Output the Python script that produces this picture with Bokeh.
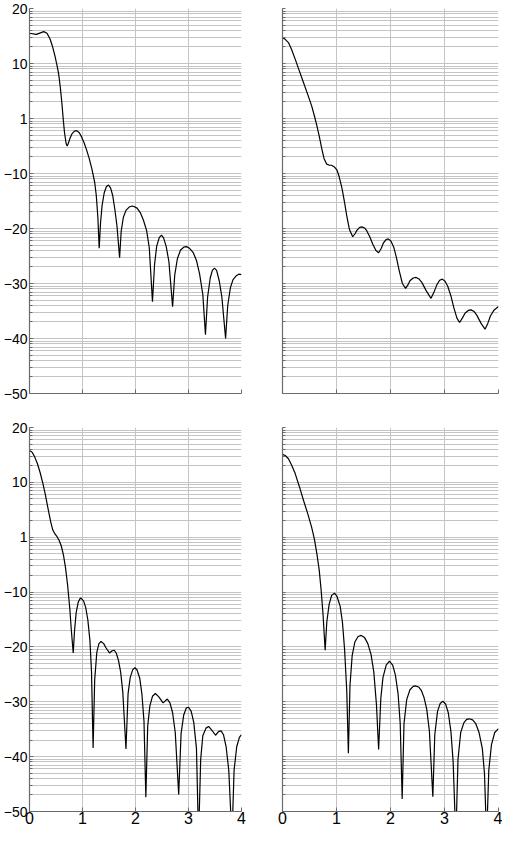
import math
from bokeh.plotting import figure
from bokeh.layouts import column, row
from bokeh.models import FixedTicker
from bokeh.embed import file_html
from bokeh.resources import INLINE

# ---- data ----
x_tl = [0.0, 0.13, 0.27, 0.33, 0.39, 0.44, 0.48, 0.52, 0.55, 0.58, 0.61, 0.64, 0.66, 0.69, 0.71, 0.73,
        0.76, 0.80, 0.85, 0.89, 0.94, 0.98, 1.03, 1.08, 1.13, 1.18, 1.23, 1.26, 1.29, 1.315, 1.34, 1.37,
        1.41, 1.45, 1.49, 1.53, 1.57, 1.61, 1.65, 1.70, 1.73, 1.77, 1.82, 1.88, 1.94, 1.97, 2.03, 2.09,
        2.15, 2.21, 2.26, 2.32, 2.36, 2.40, 2.45, 2.49, 2.53, 2.58, 2.63, 2.70, 2.74, 2.79, 2.85, 2.91,
        2.96, 3.02, 3.09, 3.15, 3.21, 3.27, 3.32, 3.36, 3.41, 3.45, 3.49, 3.53, 3.58, 3.63, 3.70, 3.74,
        3.79, 3.84, 3.90, 3.95, 4.0]
y_tl = [15.5, 15.3, 15.8, 15.5, 14.4, 12.9, 11.4, 9.6, 8.1, 5.8, 2.9, -0.5, -2.5, -4.5, -5.0, -4.6,
        -3.7, -2.8, -2.3, -2.2, -2.6, -3.3, -4.4, -5.8, -7.4, -9.3, -11.6, -14.0, -18.0, -23.6, -19.0, -15.8,
        -13.5, -12.4, -12.1, -12.6, -14.0, -16.5, -19.5, -25.3, -20.5, -18.0, -16.7, -16.1, -15.9, -16.0, -16.3, -17.1,
        -18.5, -20.4, -23.5, -33.3, -26.5, -23.2, -21.6, -21.2, -21.7, -23.3, -26.0, -34.2, -28.5, -25.5, -23.9, -23.4,
        -23.3, -23.6, -24.4, -25.8, -28.3, -32.0, -39.3, -32.5, -29.0, -27.6, -27.2, -27.6, -29.5, -32.5, -40.0, -34.0,
        -30.8, -29.3, -28.6, -28.3, -28.4]

x_tr = [0.0, 0.05, 0.11, 0.17, 0.235, 0.31, 0.39, 0.47, 0.54, 0.59, 0.636, 0.68, 0.73, 0.77, 0.82, 0.87,
        0.91, 0.96, 1.01, 1.05, 1.10, 1.15, 1.19, 1.24, 1.30, 1.34, 1.38, 1.43, 1.47, 1.52, 1.56, 1.62,
        1.67, 1.73, 1.78, 1.83, 1.87, 1.92, 1.96, 2.01, 2.06, 2.11, 2.16, 2.22, 2.28, 2.32, 2.36, 2.42,
        2.475, 2.53, 2.58, 2.66, 2.75, 2.80, 2.86, 2.91, 2.96, 3.01, 3.06, 3.12, 3.17, 3.23, 3.28, 3.33,
        3.38, 3.44, 3.49, 3.55, 3.60, 3.68, 3.75, 3.80, 3.85, 3.92, 4.0]
y_tr = [14.7, 14.4, 13.8, 12.5, 10.8, 8.7, 6.5, 4.3, 2.3, 0.5, -1.3, -3.2, -5.6, -7.3, -8.3, -8.5,
        -8.5, -8.8, -9.4, -10.6, -12.6, -15.3, -17.7, -20.2, -21.5, -21.0, -20.3, -19.8, -19.7, -19.9, -20.4, -21.6,
        -22.8, -24.0, -24.4, -23.6, -22.6, -22.0, -21.9, -22.3, -23.4, -25.3, -27.6, -30.0, -30.9, -30.3, -29.5, -29.0,
        -28.9, -29.2, -29.8, -31.3, -32.7, -31.7, -30.2, -29.4, -29.2, -29.6, -30.5, -32.3, -34.3, -36.3, -37.1, -36.3,
        -35.4, -34.9, -34.8, -35.1, -35.8, -37.3, -38.3, -37.3, -35.9, -34.8, -34.2]

x_bl = [0.0, 0.05, 0.10, 0.15, 0.20, 0.25, 0.30, 0.35, 0.40, 0.44, 0.48, 0.52, 0.56, 0.60, 0.64, 0.68,
        0.72, 0.76, 0.79, 0.825, 0.85, 0.88, 0.92, 0.96, 0.98, 1.02, 1.06, 1.10, 1.14, 1.17, 1.20, 1.23,
        1.27, 1.31, 1.35, 1.40, 1.445, 1.51, 1.56, 1.60, 1.64, 1.68, 1.72, 1.76, 1.82, 1.86, 1.90, 1.95,
        1.99, 2.03, 2.08, 2.12, 2.16, 2.195, 2.23, 2.27, 2.32, 2.375, 2.44, 2.52, 2.60, 2.65, 2.70, 2.75,
        2.815, 2.86, 2.91, 2.96, 3.00, 3.05, 3.10, 3.15, 3.19, 3.23, 3.27, 3.33, 3.38, 3.45, 3.51, 3.57,
        3.615, 3.66, 3.71, 3.76, 3.82, 3.86, 3.91, 3.96, 4.0]
y_bl = [15.8, 15.5, 14.6, 13.4, 11.8, 9.9, 7.7, 5.2, 2.8, 1.3, 0.6, 0.1, -0.6, -1.6, -3.2, -5.6,
        -8.8, -13.0, -17.0, -21.1, -17.0, -13.8, -11.8, -11.1, -11.2, -11.6, -12.8, -15.0, -18.8, -24.5, -38.4, -26.0,
        -21.0, -19.4, -19.0, -19.4, -20.2, -21.1, -20.7, -20.6, -21.2, -22.5, -24.6, -28.2, -38.6, -28.5, -25.6, -24.1,
        -23.8, -24.2, -25.7, -28.5, -33.5, -47.4, -34.5, -30.8, -29.0, -28.5, -29.1, -30.2, -29.5, -30.2, -32.0, -35.6,
        -46.9, -35.8, -32.4, -31.1, -31.0, -31.7, -33.8, -38.5, -55.0, -40.5, -36.2, -34.8, -34.5, -35.3, -36.1, -35.4,
        -35.3, -36.0, -38.2, -42.5, -55.0, -42.5, -38.2, -36.5, -36.0]

x_br = [0.0, 0.05, 0.11, 0.17, 0.235, 0.31, 0.39, 0.47, 0.54, 0.59, 0.636, 0.68, 0.716, 0.75, 0.79, 0.82,
        0.864, 0.91, 0.963, 1.01, 1.068, 1.11, 1.15, 1.19, 1.22, 1.25, 1.29, 1.34, 1.40, 1.457, 1.52, 1.58,
        1.64, 1.69, 1.74, 1.78, 1.82, 1.86, 1.92, 1.98, 2.04, 2.09, 2.14, 2.18, 2.216, 2.25, 2.30, 2.36,
        2.42, 2.457, 2.52, 2.57, 2.62, 2.67, 2.72, 2.784, 2.82, 2.87, 2.92, 2.969, 3.02, 3.07, 3.12, 3.16,
        3.21, 3.25, 3.30, 3.36, 3.41, 3.46, 3.52, 3.58, 3.64, 3.70, 3.74, 3.78, 3.82, 3.87, 3.93, 4.0]
y_br = [15.1, 14.9, 14.3, 13.1, 11.6, 9.3, 6.7, 4.2, 1.8, -0.3, -3.0, -6.0, -9.7, -14.0, -20.6, -15.5,
        -12.2, -10.6, -10.2, -10.8, -12.6, -15.5, -20.5, -28.0, -39.4, -27.0, -21.6, -19.1, -18.1, -17.9, -18.3, -19.4,
        -21.4, -24.5, -30.5, -38.7, -29.5, -25.6, -23.3, -22.6, -23.3, -25.1, -28.5, -34.0, -47.7, -34.0, -29.6, -27.8,
        -27.2, -27.1, -27.3, -27.9, -29.2, -31.3, -35.3, -47.3, -36.0, -31.8, -30.3, -29.9, -30.4, -32.0, -35.5, -41.0,
        -55.0, -40.5, -35.6, -33.8, -33.2, -33.1, -33.3, -34.0, -35.6, -38.5, -43.0, -55.0, -42.5, -37.8, -35.6, -34.9]

ytick_values = [20, 10, 0, -10, -20, -30, -40, -50]
ytick_labels = ["20", "10", "1", "\u221210", "\u221220", "\u221230", "\u221240", "\u221250"]
xtick_values = [0, 1, 2, 3, 4]
xtick_labels = ["0", "1", "2", "3", "4"]

# minor grid: log-style subdivision of every 10-unit band
minor_y = []
for base in range(-50, 20, 10):
    for k in range(2, 10):
        minor_y.append(base + 10 * math.log10(k))

GRID = "#c4c4c4"
AXIS = "#6a6a6a"
FONT = "Liberation Sans"


def make(x, y, show_y, show_x, width, height, mbl, mbr, mbt, mbb):
    p = figure(width=width, height=height, x_range=(0, 4), y_range=(-50, 20),
               output_backend="svg", toolbar_location=None, title=None,
               min_border_left=mbl, min_border_right=mbr,
               min_border_top=mbt, min_border_bottom=mbb)
    p.outline_line_color = None
    yt = FixedTicker(ticks=ytick_values, minor_ticks=minor_y)
    xt = FixedTicker(ticks=xtick_values, minor_ticks=[])
    if show_y:
        p.yaxis.ticker = yt
    else:
        p.yaxis.ticker = FixedTicker(ticks=[], minor_ticks=ytick_values + minor_y)
    if show_x:
        p.xaxis.ticker = xt
    else:
        p.xaxis.ticker = FixedTicker(ticks=[], minor_ticks=xtick_values)
    p.ygrid.ticker = yt
    p.xgrid.ticker = xt
    for g in (p.xgrid, p.ygrid):
        g.grid_line_color = GRID
        g.grid_line_width = 1
    p.ygrid.minor_grid_line_color = GRID
    p.ygrid.minor_grid_line_width = 1

    for ax in (p.xaxis, p.yaxis):
        ax.axis_line_color = AXIS
        ax.axis_line_width = 1.2
        ax.major_tick_line_color = AXIS
        ax.minor_tick_line_color = AXIS
        ax.major_tick_in = 4
        ax.major_tick_out = 0
        ax.minor_tick_in = 3
        ax.minor_tick_out = 0
        ax.major_label_text_font = FONT
        ax.major_label_text_color = "black"
    if not show_x:
        p.xaxis.minor_tick_in = 4

    p.yaxis.major_label_overrides = dict(zip(ytick_values, ytick_labels))
    p.xaxis.major_label_overrides = dict(zip(xtick_values, xtick_labels))
    p.yaxis.major_label_standoff = 2
    p.xaxis.major_label_standoff = 0
    p.yaxis.major_label_text_font_size = "14px"
    p.xaxis.major_label_text_font_size = "16px"

    p.line(x, y, line_color="black", line_width=1.2)
    return p


f1 = make(x_tl, y_tl, True, False, 249, 409, 26, 8, 8, 16)
f2 = make(x_tr, y_tr, False, False, 253, 409, 33, 4, 8, 16)
f3 = make(x_bl, y_bl, True, True, 249, 418, 26, 8, 18, 16)
f4 = make(x_br, y_br, False, True, 253, 418, 33, 4, 18, 16)

layout = column(row(f1, f2), row(f3, f4))
open("out.html", "w").write(file_html(layout, INLINE))
